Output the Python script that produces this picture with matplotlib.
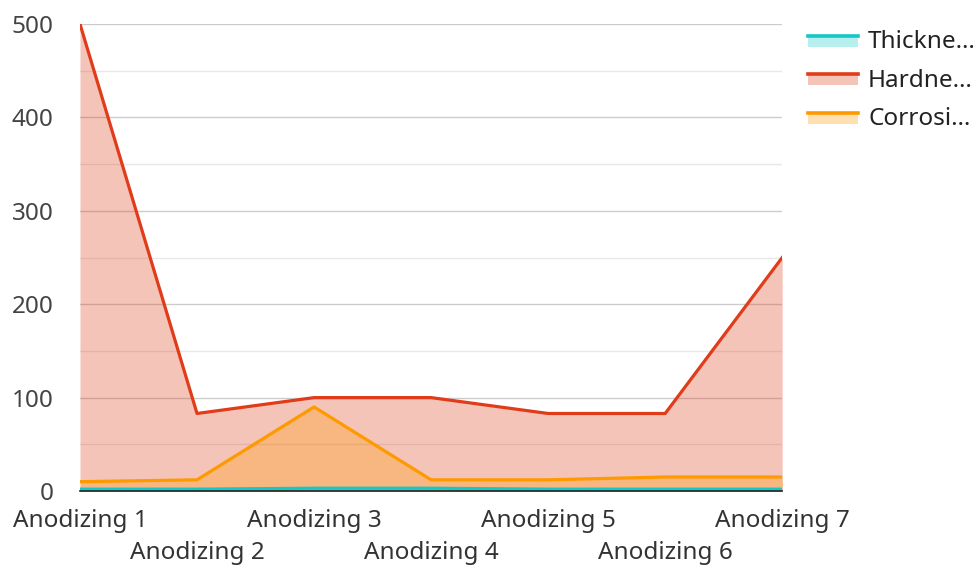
import matplotlib
matplotlib.use("Agg")
import matplotlib.pyplot as plt
from matplotlib.legend_handler import HandlerBase
from matplotlib.patches import Rectangle
from matplotlib.lines import Line2D
from matplotlib.ticker import MultipleLocator, FixedLocator, FixedFormatter

plt.rcParams['font.family'] = ['Noto Sans', 'DejaVu Sans']

categories = ["Anodizing 1", "Anodizing 2", "Anodizing 3", "Anodizing 4",
              "Anodizing 5", "Anodizing 6", "Anodizing 7"]
thickness = [2, 2, 3, 3, 2, 2, 2]
hardness = [500, 83, 100, 100, 83, 83, 250]
corrosion = [10, 12, 90, 12, 12, 15, 15]
series_names = ["Thickne…", "Hardne…", "Corrosi…"]

colors = ["#12C8C8", "#E03C1A", "#FF9900"]
fill_alpha = 0.3
FS = 17.5

fig = plt.figure(figsize=(9.79, 5.67), dpi=100)
ax = fig.add_axes([0.0817, 0.134, 0.7173, 0.8237])

x = list(range(len(categories)))
order = [(hardness, colors[1]), (corrosion, colors[2]), (thickness, colors[0])]
for d, c in order:
    ax.fill_between(x, 0, d, color=c, alpha=fill_alpha, linewidth=0, zorder=2)
for d, c in order:
    ax.plot(x, d, color=c, linewidth=2.3, zorder=3)

ax.set_xlim(0, 6)
ax.set_ylim(0, 500)
ax.yaxis.set_major_locator(MultipleLocator(100))
ax.yaxis.set_minor_locator(MultipleLocator(50))
ax.grid(axis='y', which='major', color='#cccccc', linewidth=1, zorder=1)
ax.grid(axis='y', which='minor', color='#e8e8e8', linewidth=1, zorder=1)
ax.grid(axis='x', visible=False)
for s in ['left', 'right', 'top']:
    ax.spines[s].set_visible(False)
ax.spines['bottom'].set_color('#222222')
ax.spines['bottom'].set_linewidth(1.2)
ax.spines['bottom'].set_zorder(4)
ax.tick_params(axis='y', which='both', length=0, labelsize=FS, labelcolor='#444444', pad=19)

# staggered x labels: even indices on first row (major), odd on second row (minor)
even = [i for i in x if i % 2 == 0]
odd = [i for i in x if i % 2 == 1]
ax.xaxis.set_major_locator(FixedLocator(even))
ax.xaxis.set_major_formatter(FixedFormatter([categories[i] for i in even]))
ax.xaxis.set_minor_locator(FixedLocator(odd))
ax.xaxis.set_minor_formatter(FixedFormatter([categories[i] for i in odd]))
ax.tick_params(axis='x', which='major', length=0, labelsize=FS, labelcolor='#333333', pad=13)
ax.tick_params(axis='x', which='minor', length=0, labelsize=FS, labelcolor='#333333', pad=36)


class AreaHandler(HandlerBase):
    def __init__(self, color):
        super().__init__()
        self.color = color

    def create_artists(self, legend, orig_handle, xdescent, ydescent, width, height, fontsize, trans):
        rect = Rectangle((-xdescent, -ydescent), width, height * 0.75,
                         facecolor=self.color, alpha=fill_alpha, edgecolor='none', transform=trans)
        line = Line2D([-xdescent, -xdescent + width], [-ydescent + height * 0.75] * 2,
                      color=self.color, linewidth=2.6, transform=trans)
        return [rect, line]


handles = [Rectangle((0, 0), 1, 1) for _ in series_names]
hmap = {h: AreaHandler(c) for h, c in zip(handles, colors)}
fig.legend(handles, series_names, handler_map=hmap, loc='upper left',
           bbox_to_anchor=(808 / 979, 1 - 30 / 567), frameon=False, fontsize=FS,
           borderpad=0, borderaxespad=0,
           handlelength=2.05, handleheight=0.55, handletextpad=0.42, labelspacing=0.6,
           labelcolor='#222222')

fig.savefig("out.png", dpi=100)
